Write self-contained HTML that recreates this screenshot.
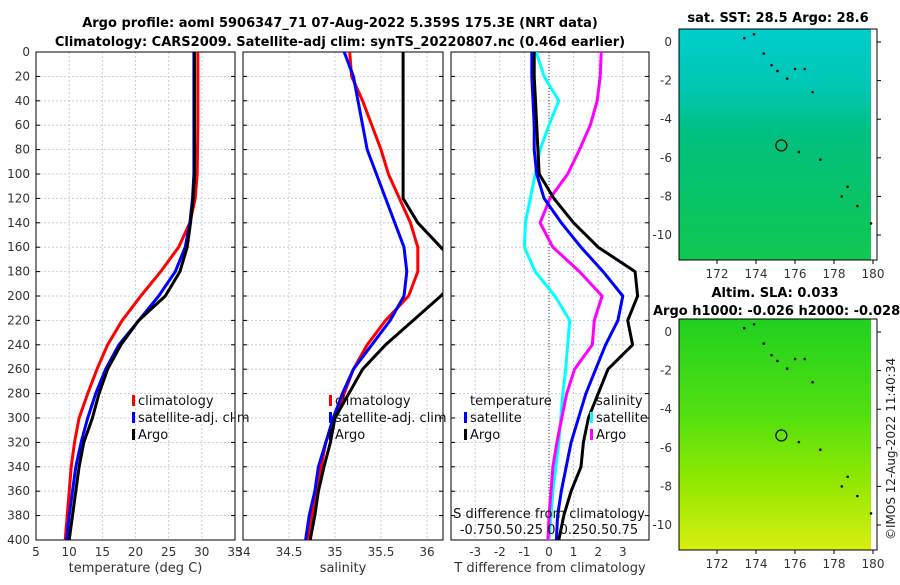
<!DOCTYPE html>
<html><head><meta charset="utf-8"><style>
body{margin:0;background:#fff;width:900px;height:580px;overflow:hidden;font-family:"Liberation Sans","DejaVu Sans",sans-serif}
svg text{font-family:"DejaVu Sans","Liberation Sans",sans-serif}
</style></head><body>
<svg id="c" width="900" height="580" xmlns="http://www.w3.org/2000/svg">
<defs>
<linearGradient id="sst" x1="0" y1="0" x2="0" y2="1"><stop offset="0" stop-color="#00cccc"/><stop offset="0.25" stop-color="#00c8b4"/><stop offset="0.45" stop-color="#00c080"/><stop offset="1" stop-color="#10c850"/></linearGradient>
<linearGradient id="sla" x1="0" y1="0" x2="0" y2="1"><stop offset="0" stop-color="#20d020"/><stop offset="0.4" stop-color="#50e010"/><stop offset="0.7" stop-color="#90e800"/><stop offset="1" stop-color="#d8ee10"/></linearGradient>
<clipPath id="cp1"><rect x="36" y="52" width="199" height="488"/></clipPath>
<clipPath id="cp2"><rect x="243" y="52" width="200" height="488"/></clipPath>
<clipPath id="cp3"><rect x="451" y="52" width="198" height="488"/></clipPath>
</defs>
<text x="340" y="27" text-anchor="middle" font-size="13" font-weight="bold">Argo profile: aoml 5906347_71 07-Aug-2022 5.359S 175.3E (NRT data)</text>
<text x="340" y="46" text-anchor="middle" font-size="13" font-weight="bold">Climatology: CARS2009. Satellite-adj clim: synTS_20220807.nc (0.46d earlier)</text>
<g id="g"></g>
</svg>
<script>
const depths=[0,20,40,60,80,100,120,140,160,180,200,220,240,260,280,300,320,340,360,380,400];
const tClim=[29.4,29.4,29.4,29.4,29.35,29.3,29.0,28.2,26.5,23.8,20.8,18.0,15.8,14.2,12.8,11.5,10.8,10.3,10.0,9.7,9.4];
const tSat=[28.8,28.8,28.8,28.8,28.8,28.8,28.6,28.2,27.5,26.0,23.5,20.5,17.5,15.5,14.0,12.8,11.8,11.0,10.5,10.0,9.6];
const tArgo=[28.9,28.9,28.9,28.9,28.9,28.9,28.7,28.3,27.8,26.7,24.5,20.5,17.8,15.8,14.5,13.5,12.2,11.5,11.0,10.5,10.0];
const sClim=[35.16,35.18,35.3,35.4,35.5,35.58,35.7,35.82,35.9,35.9,35.8,35.55,35.35,35.2,35.1,35.0,34.9,34.85,34.8,34.75,34.7];
const sSat=[35.1,35.2,35.25,35.3,35.35,35.45,35.55,35.65,35.75,35.78,35.75,35.6,35.4,35.2,35.08,34.98,34.9,34.82,34.78,34.72,34.68];
const sArgo=[35.74,35.74,35.74,35.74,35.74,35.74,35.74,35.9,36.15,36.4,36.15,35.85,35.55,35.3,35.15,35.0,34.95,34.88,34.82,34.78,34.73];
const dTSat=[-0.7,-0.7,-0.65,-0.6,-0.6,-0.5,-0.2,0.5,1.3,2.2,3.0,2.8,2.3,1.9,1.5,1.2,0.9,0.7,0.5,0.35,0.3];
const dTArgo=[-0.6,-0.6,-0.55,-0.5,-0.45,-0.4,0.2,1.0,2.0,3.5,3.6,3.2,3.4,2.4,2.0,1.6,1.4,1.3,0.9,0.6,0.4];
const dSSat=[-0.13,-0.05,0.1,0.0,-0.09,-0.14,-0.19,-0.24,-0.25,-0.14,0.06,0.21,0.19,0.17,0.14,0.12,0.1,0.07,0.04,0.02,0.0];
const dSArgo=[0.53,0.52,0.49,0.42,0.31,0.19,0.01,-0.09,0.04,0.31,0.54,0.46,0.44,0.26,0.18,0.13,0.08,0.04,0.02,0.0,-0.01];
const depthTicks=[0,20,40,60,80,100,120,140,160,180,200,220,240,260,280,300,320,340,360,380,400];
const tTicks=[5,10,15,20,25,30,35];
const sTicks=[34,34.5,35,35.5,36];
const dTTicks=[-3,-2,-1,0,1,2,3];
const lonTicks=[172,174,176,178,180];
const latTicks=[0,-2,-4,-6,-8,-10];

const NS="http://www.w3.org/2000/svg";const G=document.getElementById('g');
function el(t,a,p){const e=document.createElementNS(NS,t);for(const k in a)e.setAttribute(k,a[k]);(p||G).appendChild(e);return e;}
const Y=d=>52+d*1.22;
const xT=v=>36+(v-5)*6.633, xS=v=>243+(v-34)*92, xD=v=>549+v*24.6, xDS=v=>549+v*98.4;
const panels=[[36,235,tTicks,xT,'temperature (deg C)','panel-temperature'],[243,443,sTicks,xS,'salinity','panel-salinity'],[451,649,dTTicks,xD,'T difference from climatology','panel-difference']];
panels.forEach((p,i)=>{
 const g=el('g',{});
 
 
 p[2].forEach(t=>{const x=p[3](t);if(x>p[0]+1&&x<p[1]-1)el('line',{x1:x,x2:x,y1:52,y2:540,stroke:'#b8c4e0','stroke-width':0.8,'stroke-dasharray':'2,2'},g);
  const tx=el('text',{x:x,y:556,'text-anchor':'middle','font-size':12,fill:'#333'},g);tx.textContent=String(t);
  
  });
 depthTicks.forEach(d=>{el('line',{x1:p[0],x2:p[1],y1:Y(d),y2:Y(d),stroke:'#b8c4e0','stroke-width':0.8,'stroke-dasharray':'2,2'},g);
  el('line',{x1:p[0],x2:p[0]+4,y1:Y(d),y2:Y(d),stroke:'#000'},g);el('line',{x1:p[1]-4,x2:p[1],y1:Y(d),y2:Y(d),stroke:'#000'},g);});
 el('rect',{x:p[0],y:52,width:p[1]-p[0],height:488,fill:'none',stroke:'#000','stroke-width':1},g);
 const xl=el('text',{x:(p[0]+p[1])/2,y:572,'text-anchor':'middle','font-size':13,fill:'#333'},g);xl.textContent=p[4];
 
 
});
depthTicks.forEach(d=>{const t=el('text',{x:30,y:Y(d)+4,'text-anchor':'end','font-size':12,fill:'#333'});t.textContent=String(d);
 
 });
el('line',{x1:549,x2:549,y1:52,y2:540,stroke:'#444','stroke-dasharray':'1,2'});
function line(vals,fx,col,clip,name,w){const pts=vals.map((v,i)=>fx(v).toFixed(1)+','+Y(depths[i]).toFixed(1)).join(' ');
 const e=el('polyline',{points:pts,fill:'none',stroke:col,'stroke-width':w||3,'clip-path':'url(#'+clip+')','stroke-linejoin':'round'});
 
 }
line(tClim,xT,'#f00','cp1','temp-climatology-line');line(tSat,xT,'#00f','cp1','temp-satellite-line');line(tArgo,xT,'#000','cp1','temp-argo-line');
line(sClim,xS,'#f00','cp2','sal-climatology-line');line(sSat,xS,'#00f','cp2','sal-satellite-line');line(sArgo,xS,'#000','cp2','sal-argo-line');
line(dSSat,xDS,'#0ff','cp3','sdiff-satellite-line');line(dSArgo,xDS,'#f0f','cp3','sdiff-argo-line');
line(dTSat,xD,'#00f','cp3','tdiff-satellite-line');line(dTArgo,xD,'#000','cp3','tdiff-argo-line');
function legend(x,y,items,name){const g=el('g',{});
 items.forEach((it,i)=>{const yy=y+i*17;if(it[1])el('rect',{x:x,y:yy-10,width:3,height:11,fill:it[1]},g);
 const t=el('text',{x:x+6,y:yy,'font-size':13,fill:'#111'},g);t.textContent=it[0];});}
legend(132,405,[['climatology','#f00'],['satellite-adj. clim','#00f'],['Argo','#000']],'temp-legend');
legend(329,405,[['climatology','#f00'],['satellite-adj. clim','#00f'],['Argo','#000']],'sal-legend');
legend(464,405,[['temperature',null],['satellite','#00f'],['Argo','#000']],'tdiff-legend');
legend(590,405,[['salinity',null],['satellite','#0ff'],['Argo','#f0f']],'sdiff-legend');
let t=el('text',{x:549,y:518,'text-anchor':'middle','font-size':13,fill:'#111'});t.textContent='S difference from climatology';
t=el('text',{x:549,y:534,'text-anchor':'middle','font-size':13,fill:'#111'});t.textContent='-0.750.50.25 0 0.250.50.75';
// maps
function map(y0,y1,lat0,grad,title,name){const g=el('g',{});
 el('rect',{x:679,y:y0,width:192,height:y1-y0,fill:'url(#'+grad+')'},g);
 el('rect',{x:679,y:y0,width:198,height:y1-y0,fill:'none',stroke:'#000'},g);
 const lonX=l=>717+(l-172)*19.5, latY=l=>lat0-l*19.3;
 lonTicks.forEach(l=>{const x=lonX(l);el('line',{x1:x,x2:x,y1:y1,y2:y1+4,stroke:'#000'},g);
  const tx=el('text',{x:x,y:y1+18,'text-anchor':'middle','font-size':12,fill:'#333'},g);tx.textContent=String(l);});
 latTicks.forEach(l=>{const y=latY(l);el('line',{x1:877,x2:881,y1:y,y2:y,stroke:'#000'},g);
  const tx=el('text',{x:672,y:y+4,'text-anchor':'end','font-size':12,fill:'#333'},g);tx.textContent=String(l);});
 [[173.4,0.2],[173.9,0.4],[174.4,-0.6],[174.8,-1.2],[175.1,-1.5],[175.6,-1.9],[176,-1.4],[176.5,-1.4],[176.9,-2.6],[176.2,-5.7],[177.3,-6.1],[178.7,-7.5],[178.4,-8],[179.2,-8.5],[179.9,-9.4]].forEach(p=>el('circle',{cx:lonX(p[0]),cy:latY(p[1]),r:1.3,fill:'#000'},g));
 el('circle',{cx:lonX(175.3),cy:latY(-5.36),r:5.5,fill:'none',stroke:'#000','stroke-width':1.2},g);}
map(29,260,42,'sst','sst','sst-map');
map(319,550,332,'sla','sla','sla-map');
t=el('text',{x:778,y:22,'text-anchor':'middle','font-size':13,'font-weight':'bold'});t.textContent='sat. SST: 28.5 Argo: 28.6';
t=el('text',{x:775,y:297,'text-anchor':'middle','font-size':13,'font-weight':'bold'});t.textContent='Altim. SLA: 0.033';
t=el('text',{x:653,y:315,'font-size':13,'font-weight':'bold'});t.textContent='Argo h1000: -0.026 h2000: -0.028';
t=el('text',{x:0,y:0,'font-size':12,fill:'#222',transform:'translate(895,540) rotate(-90)'});t.textContent='©IMOS 12-Aug-2022 11:40:34';


</script>
</body></html>
